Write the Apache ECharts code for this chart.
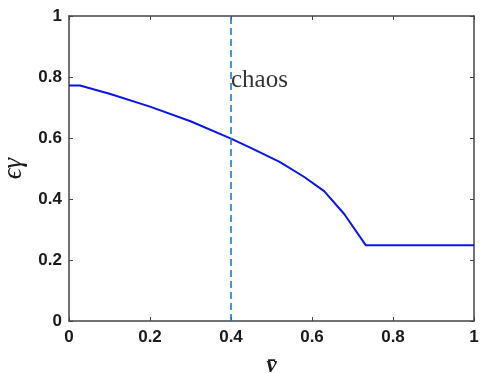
<!DOCTYPE html>
<html><head><meta charset="utf-8">
<script src="https://cdn.jsdelivr.net/npm/echarts@6/dist/echarts.min.js"></script>
<style>html,body{margin:0;padding:0;background:#fff}#c{width:488px;height:373px}</style>
</head><body><div id="c"></div>
<script>
const curveX = [0, 0.027, 0.1, 0.2, 0.3, 0.4, 0.45, 0.52, 0.58, 0.63, 0.68, 0.733, 1];
const curveY = [0.772, 0.772, 0.745, 0.703, 0.655, 0.598, 0.567, 0.522, 0.473, 0.426, 0.35, 0.248, 0.248];
const boundaryX = [0.4, 0.4];
const boundaryY = [0, 1];
const annotation = [[0.4, 0.79, 'chaos']];
const tickLabels = ['0', '0.2', '0.4', '0.6', '0.8', '1'];

const chart = echarts.init(document.getElementById('c'));
const axisLine = {show: true, onZero: false, lineStyle: {color: '#444', width: 1.5}};
const tick = {show: true, inside: true, length: 4, lineStyle: {color: '#444'}};
const tickFont = {fontFamily: 'Liberation Sans', fontWeight: 'bold', fontSize: 17, color: '#1a1a1a'};
const fmt = v => tickLabels[Math.round(v / 0.2)];
chart.setOption({
  animation: false,
  grid: {left: 69, right: 14, top: 16, bottom: 52, containLabel: false, outerBoundsMode: 'none'},
  xAxis: [
    {type: 'value', min: 0, max: 1, interval: 0.2, position: 'bottom',
     axisLine, splitLine: {show: false}, axisTick: tick,
     axisLabel: Object.assign({formatter: fmt, margin: 8}, tickFont),
     name: 'v\u0304', nameLocation: 'middle', nameGap: 34,
     nameTextStyle: {fontFamily: 'Liberation Serif', fontStyle: 'italic', fontWeight: 'bold', fontSize: 23, color: '#1a1a1a'}},
    {type: 'value', min: 0, max: 1, interval: 0.2, position: 'top',
     axisLine, splitLine: {show: false}, axisLabel: {show: false}, axisTick: tick}
  ],
  yAxis: [
    {type: 'value', min: 0, max: 1, interval: 0.2, position: 'left',
     axisLine, splitLine: {show: false}, axisTick: tick,
     axisLabel: Object.assign({formatter: fmt, margin: 7}, tickFont),
     name: '\u03f5\u03b3', nameLocation: 'middle', nameGap: 34, nameRotate: 90,
     nameTextStyle: {fontFamily: 'Liberation Serif', fontStyle: 'italic', fontSize: 27, color: '#1a1a1a'}},
    {type: 'value', min: 0, max: 1, interval: 0.2, position: 'right',
     axisLine, splitLine: {show: false}, axisLabel: {show: false}, axisTick: tick}
  ],
  series: [
    {type: 'line', data: curveX.map((x, i) => [x, curveY[i]]), showSymbol: false, symbol: 'none',
     lineStyle: {color: '#0a14f0', width: 2}},
    {type: 'line', data: boundaryX.map((x, i) => [x, boundaryY[i]]), showSymbol: false, symbol: 'none',
     lineStyle: {color: '#1f7ac8', width: 1.6, type: [7, 4]}},
    {type: 'scatter', data: annotation, symbolSize: 0,
     label: {show: true, formatter: p => p.data[2], position: 'right', offset: [-5, 0],
       fontFamily: 'Liberation Serif', fontSize: 25, color: '#000'}}
  ]
});
</script></body></html>
